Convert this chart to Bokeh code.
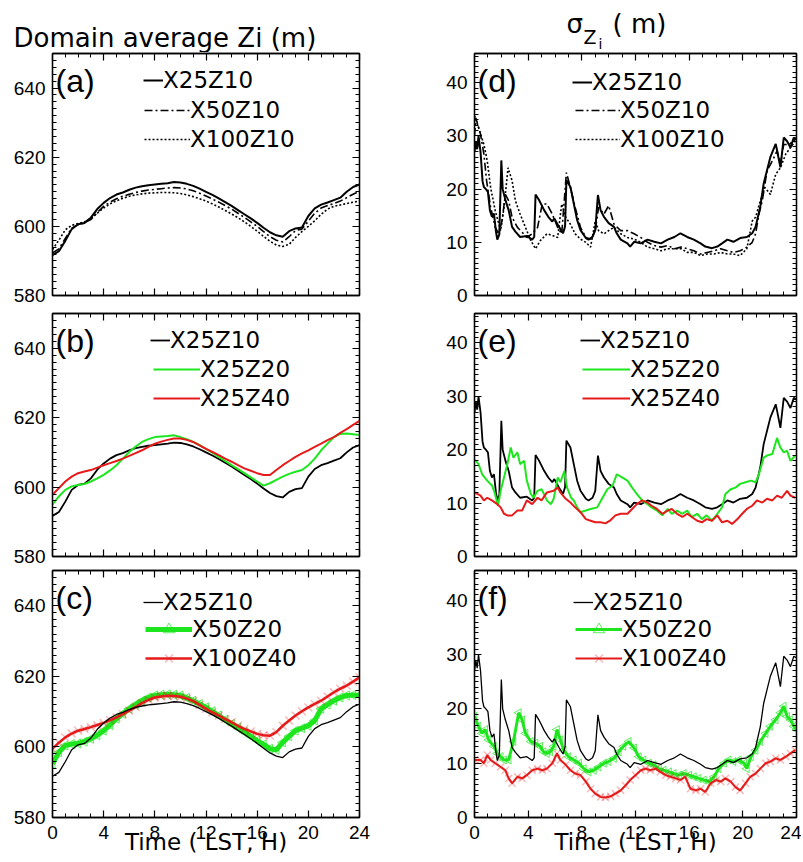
import math
from bokeh.plotting import figure
from bokeh.models import Range1d, LinearAxis, SingleIntervalTicker, Legend, LegendItem, Label
from bokeh.layouts import column, row
from bokeh.embed import file_html
from bokeh.resources import INLINE

# ---------------- data ----------------
hours = [0, 0.5, 1, 1.5, 2, 2.5, 3, 3.5, 4, 4.5, 5, 5.5, 6, 6.5, 7, 7.5, 8, 8.5, 9, 9.5,
         10, 10.5, 11, 11.5, 12, 12.5, 13, 13.5, 14, 14.5, 15, 15.5, 16, 16.5, 17, 17.5,
         18, 18.5, 19, 19.5, 20, 20.5, 21, 21.5, 22, 22.5, 23, 23.5, 24]

zi_x25z10 = [591.7, 592.8, 595.8, 599.2, 600.6, 601.0, 602.5, 605.0, 606.8, 608.2, 609.2, 609.8,
             610.6, 611.2, 611.6, 611.9, 612.1, 612.3, 612.5, 612.8, 612.7, 612.3, 611.7, 610.9,
             610.0, 609.1, 608.1, 607.0, 605.9, 604.7, 603.5, 602.3, 601.0, 599.6, 598.3, 597.4,
             597.0, 598.6, 599.4, 599.7, 603.0, 605.2, 606.3, 606.9, 607.6, 608.3, 610.0, 611.4, 612.1]
zi_x50z10 = [592.3, 593.5, 596.5, 599.5, 600.5, 601.0, 602.0, 604.0, 605.8, 607.0, 608.0, 608.7,
             609.3, 609.8, 610.2, 610.5, 610.7, 610.9, 611.1, 611.2, 611.1, 610.8, 610.3, 609.6,
             608.8, 607.9, 607.0, 606.0, 605.0, 603.8, 602.6, 601.3, 600.0, 598.5, 597.0, 596.0,
             595.5, 597.0, 598.8, 599.2, 601.5, 603.8, 605.3, 606.0, 606.6, 607.3, 608.3, 609.3, 610.2]
zi_x100z10 = [593.3, 596.0, 599.0, 600.3, 600.8, 601.3, 602.3, 603.8, 605.3, 606.5, 607.4, 608.1,
              608.7, 609.1, 609.4, 609.6, 609.7, 609.8, 609.8, 609.7, 609.5, 609.1, 608.6, 608.0,
              607.3, 606.5, 605.6, 604.6, 603.6, 602.5, 601.3, 600.0, 598.6, 597.1, 595.7, 594.6,
              594.2, 594.8, 596.8, 598.5, 600.0, 601.6, 603.5, 605.0, 605.8, 606.2, 606.6, 607.0, 607.3]
zi_x25z20 = [595.0, 597.3, 599.2, 600.2, 600.6, 600.9, 601.6, 602.5, 603.5, 604.8, 606.3, 608.2,
             610.1, 611.7, 613.0, 613.8, 614.4, 614.6, 614.7, 614.9, 614.4, 613.8, 613.0, 612.1,
             611.0, 609.9, 608.7, 607.5, 606.3, 605.2, 604.0, 602.8, 601.6, 600.4, 601.1, 602.1,
             603.0, 603.8, 604.4, 604.9, 606.3, 608.2, 610.6, 612.5, 614.4, 615.3, 615.4, 615.2, 615.0]
zi_x25z40 = [597.8, 599.7, 601.6, 603.0, 604.0, 604.5, 604.9, 605.6, 606.3, 606.9, 607.5, 608.2,
             609.0, 609.8, 610.6, 611.6, 612.5, 613.1, 613.6, 614.0, 614.0, 613.6, 613.0, 612.0,
             611.0, 610.1, 609.2, 608.2, 607.3, 606.3, 605.4, 604.7, 604.0, 603.5, 603.5, 604.9,
             606.3, 607.5, 608.7, 609.7, 610.6, 611.6, 612.5, 613.5, 614.4, 615.6, 616.7, 617.9, 619.1]
zi_x50z20 = [595.2, 598.5, 600.4, 600.8, 601.0, 601.5, 602.3, 603.3, 604.6, 606.2, 608.0, 609.4,
             610.8, 612.0, 613.1, 614.0, 614.6, 614.8, 614.9, 614.8, 614.6, 613.9, 613.1, 612.2,
             611.2, 610.1, 608.9, 607.7, 606.5, 605.4, 604.2, 603.0, 601.8, 600.7, 599.5, 599.2,
             601.3, 603.0, 604.6, 605.3, 606.0, 607.5, 610.8, 612.0, 613.1, 614.0, 614.6, 614.7, 614.6]
zi_x100z40 = [599.5, 601.2, 602.7, 603.8, 604.6, 605.1, 605.6, 606.2, 606.8, 607.6, 608.4, 609.3,
              610.3, 611.3, 612.4, 613.3, 614.0, 614.3, 614.5, 614.4, 614.2, 613.7, 613.0, 611.9,
              610.8, 609.8, 608.9, 607.9, 607.0, 606.0, 605.1, 604.4, 603.7, 603.3, 603.2, 604.2,
              606.0, 607.5, 608.9, 610.1, 611.2, 612.2, 613.1, 614.3, 615.5, 616.5, 617.4, 618.5, 619.7]

t_s25z10 = [0, 0.1, 0.2, 0.3, 0.45, 0.6, 0.7, 0.85, 1.0, 1.15, 1.3, 1.45, 1.6, 1.7, 1.85, 2.0, 2.1,
            2.3, 2.55, 2.8, 3.05, 3.4, 3.9, 4.3, 4.45, 4.55, 4.8, 5.2, 5.5, 5.8, 5.95, 6.3, 6.6,
            6.75, 6.85, 7.15, 7.4, 7.65, 7.9, 8.3, 8.5, 8.8, 9.0, 9.2, 9.4, 9.65, 10.0, 10.4, 10.6,
            10.9, 11.4, 11.6, 11.9, 12.4, 12.9, 13.4, 13.9, 14.4, 14.9, 15.35, 15.85, 16.35, 16.85,
            17.2, 17.7, 18.1, 18.45, 18.85, 19.3, 19.8, 20.3, 20.7, 20.95, 21.3, 21.55, 21.8, 22.05,
            22.45, 22.55, 22.8, 23.05, 23.3, 23.55, 23.8, 24.0]
s_x25z10 = [27, 29, 27.5, 30, 27, 21.5, 20.4, 20, 19.5, 16, 14.8, 15.4, 12, 10.5, 11.5, 25.4, 20,
            18, 16, 12.9, 12, 11, 11.2, 10.5, 11, 19, 18, 16, 14.8, 13.9, 14.5, 12.9, 11.7,
            13, 21.7, 20.4, 17.3, 14.2, 12.3, 10.8, 10.5, 11, 12.3, 18.9, 16, 14.8, 13.6, 12.9, 11.7,
            10.5, 9.8, 9.2, 10.1, 9.8, 10.5, 10.1, 9.8, 10.5, 11, 11.7, 11, 10.5, 9.8,
            9.2, 8.9, 9.2, 9.8, 10.5, 10.1, 10.8, 11, 11.7, 12.9, 16.7, 21, 23.5, 26,
            28.5, 27.3, 24.1, 29.7, 29, 27.8, 29.7, 29.4]

t_s50z10 = [0, 0.1, 0.45, 0.7, 0.9, 1.2, 1.55, 1.8, 2.05, 2.3, 2.55, 2.8, 3.2, 3.55, 3.9, 4.3, 4.7,
            5.05, 5.4, 5.8, 6.2, 6.5, 6.85, 7.15, 7.5, 7.9, 8.3, 8.65, 9.0, 9.25, 9.65, 10.0, 10.4,
            10.9, 11.4, 11.9, 12.4, 12.9, 13.4, 13.9, 14.4, 14.9, 15.4, 15.85, 16.35, 16.85, 17.35,
            17.85, 18.35, 18.85, 19.3, 19.8, 20.3, 20.7, 20.95, 21.2, 21.45, 21.8, 22.2, 22.55, 22.8,
            23.05, 23.4, 23.8, 24.0]
s_x50z10 = [30, 33.4, 30.3, 26.6, 21.6, 16.6, 12.8, 11.6, 14, 19, 17.8, 14.7, 12.8, 11.9, 10.9, 11.6,
            12.8, 17.2, 17.2, 15.3, 12.8, 11.6, 23.1, 20.3, 16.6, 12.8, 10.9, 10.6, 12.2, 16.6, 15.3,
            16.9, 13.4, 12.2, 12.2, 11.6, 10.9, 10, 9.4, 9.1, 9.4, 8.8, 9.1, 8.8, 8.4, 7.8, 8.1, 8.4,
            8.8, 8.4, 8.1, 8.4, 9.1, 10, 11.6, 15.3, 17.8, 23.4, 25.3, 27.2, 24.7, 28.4, 28.4, 29, 29.7]

t_s100z10 = [0, 0.3, 0.7, 0.95, 1.2, 1.55, 1.95, 2.2, 2.5, 2.8, 3.05, 3.4, 3.8, 4.2, 4.55, 4.9, 5.4,
             5.8, 6.2, 6.5, 6.8, 7.15, 7.5, 7.9, 8.3, 8.65, 9.0, 9.25, 9.65, 10.0, 10.4, 10.9, 11.4,
             11.9, 12.4, 12.9, 13.4, 13.9, 14.4, 14.9, 15.4, 15.85, 16.35, 16.85, 17.35, 17.85, 18.35,
             18.85, 19.3, 19.8, 20.3, 20.7, 20.95, 21.3, 21.65, 22.05, 22.45, 22.8, 23.2, 23.55, 23.9]
s_x100z10 = [33.8, 31.6, 28.4, 25.3, 20.3, 15.9, 12.2, 16.6, 24, 21.6, 17.8, 15.3, 12.8, 10.3, 8.8,
             10.3, 11.6, 11.3, 10.9, 17.2, 14.7, 13.4, 11.6, 10.6, 10, 9.1, 14, 12.2, 11.6, 12.2, 12.8,
             11.6, 10.9, 10.6, 10, 9.1, 8.8, 8.4, 8.8, 8.8, 8.8, 8.1, 8.1, 7.5, 7.8, 7.8, 8.1, 7.8,
             7.8, 7.5, 8.8, 14, 14.7, 17.8, 20.3, 19, 22.8, 24, 26.6, 27.8, 29]

t_s25z20 = [0, 0.3, 0.57, 0.95, 1.3, 1.5, 1.75, 1.95, 2.2, 2.45, 2.7, 2.9, 3.2, 3.4, 3.7, 3.9, 4.2,
            4.4, 4.7, 5.0, 5.4, 5.7, 5.9, 6.2, 6.4, 6.7, 6.9, 7.2, 7.4, 7.65, 7.9, 8.3, 8.65, 9.15,
            9.5, 9.9, 10.3, 10.6, 11.0, 11.4, 11.75, 12.1, 12.5, 12.9, 13.2, 13.6, 14.0, 14.4, 14.7,
            15.1, 15.5, 15.85, 16.2, 16.6, 16.95, 17.3, 17.7, 18.1, 18.45, 18.7, 19.1, 19.45, 19.8,
            20.2, 20.6, 20.95, 21.2, 21.55, 21.8, 22.2, 22.55, 22.8, 23.05, 23.3, 23.55, 23.9]
s_x25z20 = [18.2, 17.3, 15.4, 14.2, 13.3, 12, 9.5, 12.3, 14.8, 17.3, 20.4, 18.5, 19.5, 17.3, 17.9,
            14.2, 11.7, 11, 12.3, 12.6, 10.5, 9.8, 10.8, 14.8, 13.9, 16, 12.9, 11, 10.5, 9.2, 8.3,
            8.6, 8.9, 9.2, 10.8, 12.6, 13.3, 15.4, 14.8, 14.2, 12.9, 11.7, 10.5, 9.8, 9.2, 8.6, 7.7,
            8.9, 8, 8.6, 8, 8.6, 7.4, 8, 7, 7.7, 6.7, 8, 9.2, 11.7, 12.6, 12.9, 13.6, 13.9, 14.2,
            13.9, 15.4, 18.5, 18.9, 19.2, 22.2, 20.4, 19.5, 19.8, 17.9, 18.9]

t_s25z40 = [0, 0.45, 0.7, 0.95, 1.3, 1.7, 1.95, 2.2, 2.45, 2.8, 3.2, 3.55, 3.9, 4.3, 4.7, 5.0, 5.4,
            5.9, 6.2, 6.4, 6.8, 7.15, 7.5, 7.9, 8.3, 8.65, 9.0, 9.4, 9.75, 10.1, 10.5, 10.9, 11.4,
            11.75, 12.1, 12.5, 12.9, 13.2, 13.6, 14.0, 14.4, 14.7, 15.1, 15.5, 15.85, 16.2, 16.6,
            16.95, 17.3, 17.7, 18.1, 18.45, 18.85, 19.2, 19.6, 19.95, 20.3, 20.7, 21.05, 21.45, 21.8,
            22.2, 22.55, 22.9, 23.3, 23.55, 23.9]
s_x25z40 = [12, 11.4, 10.5, 11, 10.5, 9.8, 9.2, 8, 7.7, 7.7, 8.6, 8.6, 10.5, 9.8, 11, 10.5, 12, 12.3,
            12.9, 12, 10.8, 10.1, 9.2, 8.3, 7, 6.7, 6.4, 6.4, 6.2, 6.7, 7.7, 8, 8, 8.9, 9.8, 10.5,
            10.1, 9.5, 8.9, 8, 8.6, 8.9, 8, 7.4, 8, 7.4, 6.7, 6.4, 7, 6.7, 7.7, 6.4, 6.7, 6.1, 7, 8,
            8.9, 9.5, 10.5, 10.1, 10.8, 10.5, 11.4, 11, 12.3, 11.4, 11]

t_s50z20 = [0, 0.3, 0.55, 0.8, 1.05, 1.45, 1.7, 1.95, 2.2, 2.55, 2.9, 3.3, 3.55, 3.8, 4.2, 4.55, 4.9,
            5.15, 5.4, 5.65, 5.9, 6.15, 6.4, 6.65, 7.0, 7.4, 7.8, 8.15, 8.5, 8.9, 9.25, 9.65, 10.0,
            10.4, 10.75, 11.1, 11.5, 11.9, 12.25, 12.6, 13.0, 13.35, 13.75, 14.1, 14.5, 14.85, 15.25,
            15.6, 16.0, 16.35, 16.7, 17.1, 17.5, 17.85, 18.2, 18.6, 18.95, 19.3, 19.7, 20.1, 20.3,
            20.6, 20.95, 21.3, 21.7, 22.05, 22.45, 22.8, 23.05, 23.3, 23.55, 23.8, 24.0]
s_x50z20 = [18.6, 16.8, 15.5, 16.2, 14.3, 13.1, 11.8, 11.2, 10.6, 10.6, 14.0, 19.3, 18, 15.5, 14, 13.7,
            13.1, 12.1, 11.8, 12.1, 13.1, 16.2, 14.3, 12.4, 11.2, 10.6, 10, 9, 8.4, 8.7, 9.3, 10, 10.3,
            10.9, 12.1, 13.1, 14, 12.8, 11.2, 10.6, 10, 9.7, 9, 8.7, 8.4, 8.1, 7.8, 8.1, 7.8, 7.5, 7.2,
            6.9, 6.6, 7.5, 9, 10, 10.6, 10.3, 10.6, 10, 9, 11.2, 12.4, 14, 15.5, 16.8, 18, 19.3, 20.5,
            18.6, 18, 16.8, 16.2]

t_s100z40 = [0, 0.45, 0.7, 0.95, 1.2, 1.55, 1.95, 2.3, 2.55, 2.8, 3.2, 3.55, 3.9, 4.3, 4.7, 5.05, 5.4,
             5.8, 6.15, 6.4, 6.8, 7.15, 7.5, 7.9, 8.3, 8.65, 9.0, 9.4, 9.75, 10.15, 10.5, 10.9, 11.25,
             11.6, 12.0, 12.4, 12.75, 13.1, 13.5, 13.85, 14.25, 14.6, 15.0, 15.35, 15.7, 16.1, 16.5,
             16.85, 17.2, 17.6, 18.0, 18.35, 18.7, 19.1, 19.45, 19.8, 20.2, 20.55, 20.95, 21.3, 21.7,
             22.05, 22.45, 22.8, 23.2, 23.55, 23.9]
s_x100z40 = [10.6, 10.6, 10, 11.5, 10.6, 10, 9.3, 8.7, 7.2, 6.3, 7.5, 7.2, 7.8, 8.7, 9, 8.7, 9, 10,
             11.8, 10.6, 9.7, 8.7, 8.1, 7.8, 6.6, 5.3, 4.4, 3.8, 3.7, 3.9, 4.4, 5, 5.9, 6.9, 7.8, 8.7,
             9, 8.7, 9, 8.4, 7.8, 7.5, 7.2, 6.9, 7.5, 5.3, 5, 5.3, 4.7, 6.3, 6.9, 6.6, 7.2, 6.6, 5.6,
             5, 6.3, 7.5, 8.1, 9, 10, 10.3, 10.9, 10.6, 11.2, 11.8, 12.4]

# ---------------- styling ----------------
FONT = "Liberation Sans"      # tick labels, panel letters
WFONT = "DejaVu Sans"         # wider face for titles and legends
GREEN = "#1ee61e"
RED = "#e61a1a"
BLACK = "black"

LEFT_W = 430   # left column figure width
RIGHT_W = 371  # right column figure width
HEADER_H = 52


def style_axis(ax, interval, minor, show_labels, standoff=7):
    ax.ticker = SingleIntervalTicker(interval=interval, num_minor_ticks=minor)
    ax.major_tick_in = 7
    ax.major_tick_out = 0
    ax.minor_tick_in = 4
    ax.minor_tick_out = 0
    ax.axis_line_color = BLACK
    ax.axis_line_width = 1.3
    ax.major_tick_line_color = BLACK
    ax.minor_tick_line_color = BLACK
    ax.major_tick_line_width = 1.2
    ax.minor_tick_line_width = 1.0
    if show_labels:
        ax.major_label_text_font = FONT
        ax.major_label_text_font_size = "19px"
        ax.major_label_text_color = BLACK
        ax.major_label_standoff = standoff
    else:
        ax.major_label_text_font_size = "1px"
        ax.major_label_text_color = None
        ax.major_label_standoff = 0


def make_fig(kind, col, row_i):
    if kind == "zi":
        ymin, ymax, yint, yminor = 580, 650, 20, 10
    else:
        ymin, ymax, yint, yminor = 0, 45.5, 10, 10
    fw = 307 if col == 0 else 322
    bl = 52 if col == 0 else 44
    br = LEFT_W - bl - fw if col == 0 else RIGHT_W - bl - fw
    fh, bt, bb = [(242, 1, 12), (243, 6, 11), (247, 3, 44)][row_i]
    p = figure(frame_width=fw, frame_height=fh, min_border_left=bl, min_border_right=br,
               min_border_top=bt, min_border_bottom=bb, x_range=Range1d(0, 24),
               y_range=Range1d(ymin, ymax), output_backend="svg", toolbar_location=None,
               title=None, background_fill_color="white", border_fill_color="white")
    p.xgrid.grid_line_color = None
    p.ygrid.grid_line_color = None
    p.outline_line_color = BLACK
    p.outline_line_width = 1.3
    style_axis(p.xaxis[0], 4, 4, row_i == 2, standoff=8)
    style_axis(p.yaxis[0], yint, yminor, True, standoff=7)
    if row_i == 2:
        ax = p.xaxis[0]
        ax.axis_label = "Time ( LST, H)"
        ax.axis_label_text_font = WFONT
        ax.axis_label_text_font_size = "23px"
        ax.axis_label_text_font_style = "normal"
        ax.axis_label_text_color = BLACK
        ax.axis_label_standoff = -13
    top = LinearAxis()
    style_axis(top, 4, 4, False)
    p.add_layout(top, "above")
    right = LinearAxis()
    style_axis(right, yint, yminor, False)
    p.add_layout(right, "right")
    return p, ymax


def make_header(width, parts):
    h = figure(width=width, height=HEADER_H, x_range=Range1d(0, width), y_range=Range1d(0, HEADER_H),
               min_border=0, output_backend="svg", toolbar_location=None, title=None,
               x_axis_location=None, y_axis_location=None, outline_line_color=None,
               background_fill_color="white", border_fill_color="white")
    h.xgrid.grid_line_color = None
    h.ygrid.grid_line_color = None
    for txt, x, y, fs in parts:
        h.add_layout(Label(x=x, y=y, text=txt, text_baseline="middle", text_font=WFONT,
                           text_font_size=fs, text_color=BLACK))
    return h


def panel_label(p, ymax, txt):
    p.add_layout(Label(x=0, y=ymax, x_offset=3, y_offset=-27, text=txt, text_baseline="middle",
                       text_font=FONT, text_font_size="32px", text_color=BLACK))


def legend(p, items, loc, gw):
    leg = Legend(items=items, location=loc, glyph_width=gw, glyph_height=28, label_height=28,
                 label_standoff=0, padding=0, margin=0, spacing=1, border_line_color=None,
                 background_fill_alpha=0, label_text_font=WFONT, label_text_font_size="23px",
                 label_text_color=BLACK, label_text_baseline="middle")
    p.add_layout(leg)


# ---- headers (column titles); header x/y are pixels inside the header canvas (y from bottom)
head_left = make_header(LEFT_W, [("Domain average Zi (m)", 13, 15, "26px")])
head_right = make_header(RIGHT_W, [("σ", 136, 29, "26px"), ("Z", 153, 16, "19px"),
                                   ("i", 168, 9, "14px"), ("( m)", 182, 29, "26px")])

# ---- (a)
pa, ya = make_fig("zi", 0, 0)
r1 = pa.line(hours, zi_x25z10, line_color=BLACK, line_width=2)
r2 = pa.line(hours, zi_x50z10, line_color=BLACK, line_width=1.6, line_dash="8 3 2 3")
r3 = pa.line(hours, zi_x100z10, line_color=BLACK, line_width=1.6, line_dash="2 2")
panel_label(pa, ya, "(a)")
legend(pa, [LegendItem(label="X25Z10", renderers=[r1])], (91, 201), 20)
legend(pa, [LegendItem(label="X50Z10", renderers=[r2]), LegendItem(label="X100Z10", renderers=[r3])], (92, 142), 46)

# ---- (d)
pd_, yd = make_fig("sig", 1, 0)
r1 = pd_.line(t_s25z10, s_x25z10, line_color=BLACK, line_width=2)
r2 = pd_.line(t_s50z10, s_x50z10, line_color=BLACK, line_width=1.6, line_dash="8 3 2 3")
r3 = pd_.line(t_s100z10, s_x100z10, line_color=BLACK, line_width=1.6, line_dash="2 2")
panel_label(pd_, yd, "(d)")
legend(pd_, [LegendItem(label="X25Z10", renderers=[r1])], (98, 199), 20)
legend(pd_, [LegendItem(label="X50Z10", renderers=[r2]), LegendItem(label="X100Z10", renderers=[r3])], (101, 142), 45)

# ---- (b)
pb, yb = make_fig("zi", 0, 1)
r1 = pb.line(hours, zi_x25z10, line_color=BLACK, line_width=1.8)
r2 = pb.line(hours, zi_x25z20, line_color=GREEN, line_width=2)
r3 = pb.line(hours, zi_x25z40, line_color=RED, line_width=2)
panel_label(pb, yb, "(b)")
legend(pb, [LegendItem(label="X25Z10", renderers=[r1])], (98, 202), 20)
legend(pb, [LegendItem(label="X25Z20", renderers=[r2]), LegendItem(label="X25Z40", renderers=[r3])], (101, 144), 47)

# ---- (e)
pe, ye = make_fig("sig", 1, 1)
r1 = pe.line(t_s25z10, s_x25z10, line_color=BLACK, line_width=1.8)
r2 = pe.line(t_s25z20, s_x25z20, line_color=GREEN, line_width=2)
r3 = pe.line(t_s25z40, s_x25z40, line_color=RED, line_width=2)
panel_label(pe, ye, "(e)")
legend(pe, [LegendItem(label="X25Z10", renderers=[r1])], (106, 202), 20)
legend(pe, [LegendItem(label="X25Z20", renderers=[r2]), LegendItem(label="X25Z40", renderers=[r3])], (108, 144), 48)

# ---- (c)
pc, yc = make_fig("zi", 0, 2)
g_l = pc.line(hours, zi_x50z20, line_color=GREEN, line_width=5)
g_m = pc.scatter(hours, zi_x50z20, marker="triangle", angle=math.pi / 2, size=9,
                 line_color=GREEN, fill_color=None, line_alpha=0.7)
r_l = pc.line(hours, zi_x100z40, line_color=RED, line_width=2.5)
r_m = pc.scatter(hours, zi_x100z40, marker="x", size=11, line_color=RED, line_alpha=0.3, line_width=1.5)
r1 = pc.line(hours, zi_x25z10, line_color=BLACK, line_width=1.3)
panel_label(pc, yc, "(c)")
legend(pc, [LegendItem(label="X25Z10", renderers=[r1])], (91, 201), 20)
legend(pc, [LegendItem(label="X50Z20", renderers=[g_l, g_m]), LegendItem(label="X100Z40", renderers=[r_l, r_m])], (93, 145), 47)

# ---- (f)
pf, yf = make_fig("sig", 1, 2)
g_l = pf.line(t_s50z20, s_x50z20, line_color=GREEN, line_width=3)
g_m = pf.scatter(t_s50z20, s_x50z20, marker="triangle", angle=math.pi / 2, size=8,
                 line_color=GREEN, fill_color=None, line_alpha=0.7)
r_l = pf.line(t_s100z40, s_x100z40, line_color=RED, line_width=2)
r_m = pf.scatter(t_s100z40, s_x100z40, marker="x", size=10, line_color=RED, line_alpha=0.3, line_width=1.5)
r1 = pf.line(t_s25z10, s_x25z10, line_color=BLACK, line_width=1.3)
panel_label(pf, yf, "(f)")
legend(pf, [LegendItem(label="X25Z10", renderers=[r1])], (99, 201), 20)
legend(pf, [LegendItem(label="X50Z20", renderers=[g_l, g_m]), LegendItem(label="X100Z40", renderers=[r_l, r_m])], (101, 145), 47)

layout = column(row(head_left, head_right), row(pa, pd_), row(pb, pe), row(pc, pf))

open("out.html", "w").write(file_html(layout, INLINE))
